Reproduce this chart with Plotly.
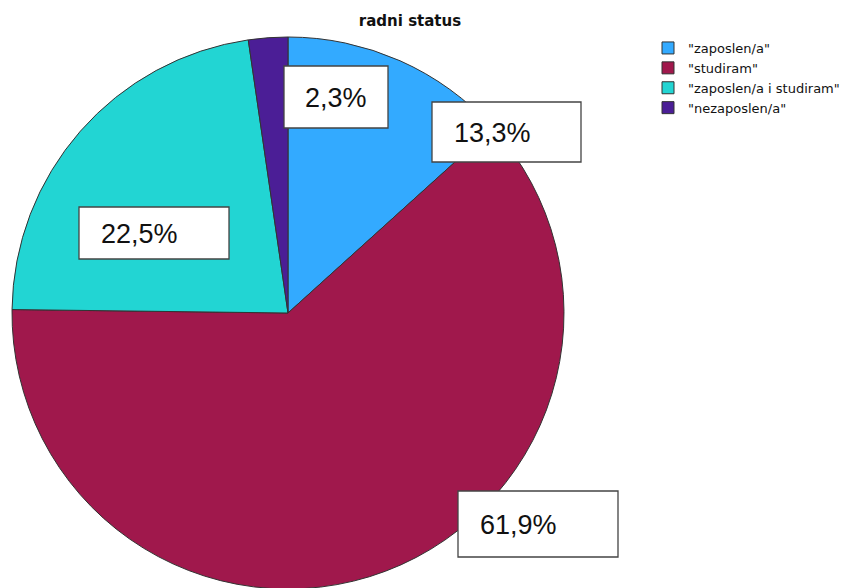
import plotly.graph_objects as go

# data
categories = ['"zaposlen/a"', '"studiram"', '"zaposlen/a i studiram"', '"nezaposlen/a"']
percentages = [13.3, 61.9, 22.5, 2.3]
label_texts = ["13,3%", "61,9%", "22,5%", "2,3%"]
colors = ["#33AAFF", "#A0184C", "#22D5D3", "#4B1E96"]

W, H = 850, 620
OFF = 8  # page body margin


def px(x):
    return (x - OFF) / W


def py(y):
    return 1 - (y - OFF) / H


fig = go.Figure(go.Pie(
    labels=categories,
    values=percentages,
    sort=False,
    direction="clockwise",
    rotation=0,
    marker=dict(colors=colors, line=dict(color="#333333", width=1)),
    textinfo="none",
    hoverinfo="label+percent",
    domain=dict(x=[px(12), px(564)], y=[py(589), py(37)]),
))

# label boxes (SPSS style): x0, y0, x1, y1 in page px, text alignment
boxes = [
    (432, 102, 581, 162, "left"),
    (458, 491, 618, 557, "left"),
    (79, 207, 229, 259, "left"),
    (284, 66, 388, 128, "center"),
]
for txt, (x0, y0, x1, y1, al) in zip(label_texts, boxes):
    fig.add_shape(type="rect", xref="paper", yref="paper",
                  x0=px(x0), x1=px(x1), y0=py(y1), y1=py(y0),
                  fillcolor="white", line=dict(color="#444444", width=1.3))
    if al == "left":
        tx, anchor = px(x0 + 20), "left"
    else:
        tx, anchor = px((x0 + x1) / 2), "center"
    fig.add_annotation(
        x=tx, y=py((y0 + y1) / 2 + 1), xref="paper", yref="paper",
        text=txt, showarrow=False, xanchor=anchor, yanchor="middle",
        font=dict(family="Liberation Sans, Arial", size=27, color="#111111"),
    )

fig.update_layout(
    width=W, height=H,
    title=dict(text="<b>radni status</b>", x=px(410), xanchor="center", y=py(21), yanchor="middle",
               font=dict(family="DejaVu Sans", size=15, color="#111111")),
    paper_bgcolor="white",
    plot_bgcolor="white",
    margin=dict(l=0, r=0, t=0, b=0),
    showlegend=True,
    legend=dict(x=px(648), y=py(33), xanchor="left", yanchor="top",
                font=dict(family="DejaVu Sans", size=13, color="#111111"),
                tracegroupgap=0, itemwidth=30),
)

fig.write_html("out.html")
